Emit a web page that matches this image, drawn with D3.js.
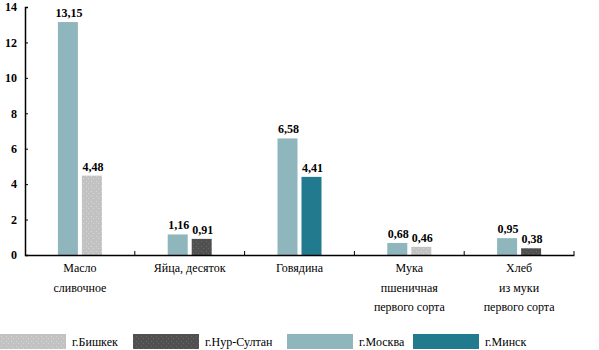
<!DOCTYPE html>
<html><head><meta charset="utf-8">
<script src="https://cdn.jsdelivr.net/npm/d3@7"></script>
<style>body{margin:0;background:#fff}svg{display:block}svg text{font-family:'Liberation Serif','Tinos','Times New Roman','Noto Serif','DejaVu Serif' !important;fill:#000}</style>
</head><body><svg id="c" width="599" height="350"></svg>
<script>
const categories = [["Масло","сливочное"],["Яйца,  десяток"],["Говядина"],["Мука","пшеничная","первого сорта"],["Хлеб","из муки","первого сорта"]];
const seriesNames = ["г.Бишкек","г.Нур-Султан","г.Москва","г.Минск"];
const moscowValues = [13.15, 1.16, 6.58, 0.68, 0.95];
const otherCity = [0, 1, 3, 0, 1];
const otherValues = [4.48, 0.91, 4.41, 0.46, 0.38];
const yTicks = [0,2,4,6,8,10,12,14];

const svg = d3.select("#c");
const defs = svg.append("defs");
function dotPattern(id, bg, dot){
  const p = defs.append("pattern").attr("id",id).attr("width",5).attr("height",5).attr("patternUnits","userSpaceOnUse");
  p.append("rect").attr("width",5).attr("height",5).attr("fill",bg);
  p.append("rect").attr("x",1).attr("y",1).attr("width",1).attr("height",1).attr("fill",dot);
  p.append("rect").attr("x",3).attr("y",3).attr("width",1).attr("height",1).attr("fill",dot);
}
dotPattern("pB","#c2c2c2","#d6d6d6");
dotPattern("pN","#505050","#686868");
const fills = ["url(#pB)","url(#pN)","#8fb5bd","#227a8e"];

const x = d3.scaleBand().domain(d3.range(categories.length)).range([25,574]);
const y = d3.scaleLinear().domain([0,14]).range([255,7]);
const bw = 20, gap = 4;

const g = svg.append("g");
categories.forEach((c,i)=>{
  const cx = x(i) + x.bandwidth()/2;
  const bars = [{v:moscowValues[i], s:2, x0: cx - gap/2 - bw},{v:otherValues[i], s:otherCity[i], x0: cx + gap/2}];
  bars.forEach(b=>{
    g.append("rect").attr("x",b.x0).attr("y",y(b.v)).attr("width",bw).attr("height",y(0)-y(b.v)).attr("fill",fills[b.s]);
    g.append("text").attr("x",b.x0+bw/2+1).attr("y",y(b.v)-5).attr("text-anchor","middle")
      .attr("font-size",12).attr("font-weight","bold").text(d3.format(".2f")(b.v).replace(".",","));
  });
  const t = g.append("text").attr("text-anchor","middle").attr("font-size",12);
  c.forEach((line,k)=>t.append("tspan").attr("x",cx).attr("y",272+k*19.5).text(line));
});

const ya = svg.append("g").attr("transform","translate(25,0)")
  .call(d3.axisLeft(y).tickValues(yTicks).tickSize(-3).tickPadding(8).tickFormat(d3.format("d")));
ya.select(".domain").attr("stroke","#000").attr("stroke-width",1.5);
ya.selectAll("text").attr("font-size",12).attr("font-weight","bold");
const xa = svg.append("g").attr("transform","translate(0,255)")
  .call(d3.axisBottom(x).tickValues([]).tickSizeOuter(0));
xa.select(".domain").attr("stroke","#000").attr("stroke-width",1.5);
const bounds = d3.range(1,categories.length).map(i=>x(i)).concat([x.range()[1]]);
xa.selectAll(".tk").data(bounds).enter().append("line").attr("class","tk")
  .attr("x1",d=>d).attr("x2",d=>d).attr("y1",0).attr("y2",-4).attr("stroke","#000");

const legX = [0,133,287,413];
const lg = svg.append("g");
seriesNames.forEach((n,i)=>{
  lg.append("rect").attr("x",legX[i]).attr("y",334).attr("width",66).attr("height",15).attr("fill",fills[i]);
  lg.append("text").attr("x",legX[i]+72).attr("y",346).attr("font-size",12).text(n);
});
</script></body></html>
